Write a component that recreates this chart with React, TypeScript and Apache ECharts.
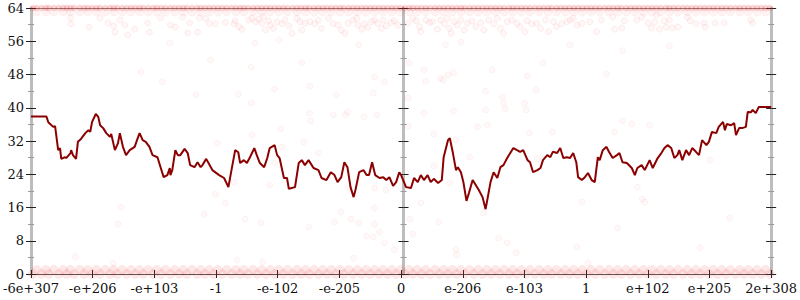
import React, { useEffect, useRef } from "react";
import * as echarts from "echarts";

const xTickLabels = ["-6e+307", "-e+206", "-e+103", "-1", "-e-102", "-e-205", "0", "e-206", "e-103", "1", "e+102", "e+205", "2e+308"];

const linePoints: [number, number][] = [
  [-6.00, 37.9], [-5.75, 37.9], [-5.72, 36.5], [-5.64, 35.4], [-5.61, 35.6], [-5.56, 29.8], [-5.53, 30.3], [-5.51, 27.7], [-5.45, 28.1], [-5.43, 27.9], [-5.36, 29.1], [-5.35, 29.8], [-5.32, 28.6], [-5.27, 27.7], [-5.24, 31.8], [-5.19, 32.5], [-5.12, 33.9], [-5.07, 34.6], [-5.04, 34.2], [-5.01, 36.6], [-4.95, 38.5], [-4.91, 37.8], [-4.88, 35.8], [-4.83, 35.1], [-4.78, 33.9], [-4.72, 33.0], [-4.70, 33.7], [-4.64, 29.8], [-4.59, 31.5], [-4.56, 33.9], [-4.51, 30.6], [-4.46, 28.6], [-4.40, 29.8], [-4.32, 30.6], [-4.27, 32.7], [-4.24, 33.9], [-4.19, 32.2], [-4.14, 31.8], [-4.08, 30.6], [-4.03, 28.6], [-3.95, 28.1], [-3.90, 25.7], [-3.85, 23.3], [-3.79, 23.8], [-3.75, 25.5], [-3.74, 23.8], [-3.71, 25.0], [-3.66, 29.8], [-3.62, 28.6], [-3.58, 28.6], [-3.51, 30.1], [-3.46, 29.1], [-3.42, 26.2], [-3.35, 25.7], [-3.30, 26.9], [-3.25, 25.7],
  [-3.22, 26.2], [-3.16, 27.7], [-3.06, 25.0], [-2.95, 23.8], [-2.87, 23.1], [-2.80, 20.9], [-2.75, 25.0], [-2.69, 29.8], [-2.64, 29.3], [-2.61, 26.7], [-2.55, 27.4], [-2.50, 26.7], [-2.45, 28.1], [-2.38, 30.3], [-2.34, 28.6], [-2.29, 26.7], [-2.22, 25.7], [-2.17, 27.9], [-2.13, 30.3], [-2.05, 31.0], [-2.01, 28.6], [-1.97, 27.9], [-1.90, 23.1], [-1.85, 23.1], [-1.82, 20.5], [-1.72, 20.9], [-1.66, 26.7], [-1.61, 27.4], [-1.56, 26.2], [-1.50, 27.4], [-1.42, 25.5], [-1.34, 25.0], [-1.29, 23.1], [-1.21, 22.6], [-1.14, 24.5], [-1.08, 23.8], [-1.03, 22.1], [-0.97, 23.3], [-0.92, 26.9], [-0.87, 25.7], [-0.82, 20.9], [-0.77, 18.5], [-0.74, 20.2], [-0.68, 24.5], [-0.61, 25.0], [-0.56, 23.8], [-0.52, 23.8], [-0.47, 26.9], [-0.42, 23.8], [-0.35, 23.1], [-0.29, 23.3], [-0.24, 22.6], [-0.19, 23.3], [-0.13, 21.2], [-0.08, 22.1], [-0.03, 24.5],
  [0.00, 23.8], [0.08, 20.9], [0.16, 20.7], [0.21, 23.1], [0.27, 22.1], [0.32, 23.8], [0.37, 22.6], [0.43, 23.8], [0.48, 22.1], [0.53, 22.9], [0.60, 21.9], [0.66, 22.6], [0.69, 28.1], [0.76, 32.2], [0.79, 32.7], [0.84, 29.1], [0.89, 25.0], [0.92, 25.7], [0.97, 24.5], [1.01, 22.1], [1.06, 17.6], [1.10, 19.5], [1.16, 22.6], [1.21, 21.4], [1.26, 20.2], [1.32, 18.5], [1.37, 15.6], [1.40, 18.0], [1.45, 22.1], [1.50, 24.5], [1.56, 23.1], [1.61, 25.7], [1.66, 26.2], [1.72, 27.9], [1.77, 29.1], [1.82, 30.3], [1.88, 29.8], [1.93, 29.4], [1.98, 29.8], [2.05, 27.4], [2.09, 26.9], [2.14, 24.5], [2.21, 25.0], [2.26, 25.5], [2.30, 27.4], [2.37, 28.6], [2.42, 28.1], [2.46, 29.4], [2.53, 29.1], [2.58, 30.3], [2.63, 27.9], [2.69, 28.1], [2.74, 27.9], [2.79, 29.1], [2.84, 26.9], [2.87, 23.3], [2.93, 22.6], [2.98, 23.3], [3.03, 24.3], [3.09, 22.6], [3.14, 22.1], [3.19, 28.1],
  [3.22, 27.4], [3.27, 29.8], [3.33, 30.6], [3.37, 29.4], [3.43, 27.9], [3.50, 28.6], [3.54, 29.1], [3.59, 26.9], [3.66, 26.7], [3.74, 25.5], [3.79, 23.8], [3.83, 25.5], [3.90, 26.2], [3.95, 25.0], [4.03, 27.4], [4.08, 25.5], [4.16, 27.9], [4.22, 29.1], [4.27, 30.3], [4.32, 31.0], [4.38, 30.3], [4.43, 27.9], [4.48, 28.6], [4.51, 29.8], [4.56, 27.4], [4.62, 29.8], [4.67, 28.6], [4.72, 30.3], [4.78, 29.4], [4.83, 28.6], [4.88, 32.2], [4.95, 31.0], [4.99, 31.8], [5.04, 34.2], [5.11, 33.9], [5.15, 35.4], [5.22, 36.6], [5.25, 34.6], [5.28, 36.1], [5.35, 35.8], [5.40, 36.3], [5.43, 33.4], [5.48, 35.1], [5.53, 35.1], [5.59, 35.4], [5.62, 39.0], [5.67, 38.9], [5.70, 39.5], [5.75, 38.7], [5.80, 40.2], [6.00, 40.2],
];

const upperPoints: [number, number][] = [
  [-5.36, 61.6], [-5.35, 60.2], [-5.06, 59.4], [-4.88, 61.6], [-4.75, 60.4], [-4.66, 59.7], [-4.64, 58.2], [-4.56, 61.1], [-4.48, 59.9], [-4.43, 57.5], [-4.32, 58.9], [-4.11, 60.4], [-4.08, 58.2], [-3.90, 61.6], [-3.74, 59.9], [-3.66, 59.4], [-3.54, 61.8], [-3.46, 58.0], [-3.43, 60.4], [-3.30, 58.2], [-3.27, 61.6],
  [-3.17, 61.5], [-3.11, 60.3], [-3.01, 60.2], [-2.85, 60.5], [-2.71, 60.2], [-2.69, 60.9], [-2.63, 59.5], [-2.58, 58.9], [-2.47, 61.1], [-2.42, 61.5], [-2.36, 60.7], [-2.31, 61.3], [-2.26, 60.3], [-2.23, 61.9], [-2.20, 58.7], [-2.15, 60.9], [-2.12, 59.9], [-2.07, 59.1], [-2.01, 60.7], [-1.93, 60.2], [-1.88, 61.1], [-1.82, 59.7], [-1.77, 57.9], [-1.69, 61.5], [-1.64, 60.7], [-1.61, 58.7], [-1.56, 60.3], [-1.48, 60.7], [-1.40, 60.2], [-1.34, 61.1], [-1.29, 59.1], [-1.18, 61.5], [-1.10, 60.2], [-1.02, 59.9], [-0.97, 58.7], [-0.91, 57.9], [-0.86, 60.3], [-0.78, 61.1], [-0.72, 61.5], [-0.70, 59.9], [-0.64, 58.9], [-0.59, 60.2], [-0.54, 59.3], [-0.48, 60.7], [-0.43, 61.1], [-0.38, 60.3], [-0.32, 59.1], [-0.29, 61.1], [-0.24, 59.7], [-0.16, 60.5], [-0.11, 60.9], [-0.05, 59.9],
  [0.11, 60.3], [0.19, 61.5], [0.24, 60.9], [0.30, 59.5], [0.32, 58.3], [0.40, 61.1], [0.46, 60.5], [0.51, 60.7], [0.59, 58.9], [0.64, 61.1], [0.70, 60.2], [0.75, 61.5], [0.78, 59.1], [0.81, 57.9], [0.86, 60.7], [0.91, 59.9], [0.97, 61.1], [1.02, 58.7], [1.07, 60.3], [1.15, 60.9], [1.21, 59.5], [1.29, 60.5], [1.34, 58.7], [1.42, 61.1], [1.50, 60.2], [1.56, 61.5], [1.61, 59.1], [1.66, 57.9], [1.72, 60.7], [1.80, 61.1], [1.88, 60.3], [1.93, 59.5], [2.01, 58.3], [2.04, 60.9], [2.12, 60.2], [2.20, 60.3], [2.26, 59.1], [2.34, 61.1], [2.39, 58.3], [2.47, 60.7], [2.52, 59.5], [2.60, 60.2], [2.69, 60.7], [2.74, 61.1], [2.79, 61.5], [2.85, 59.9], [2.93, 60.3], [3.06, 60.7], [3.17, 58.3],
  [3.25, 61.1], [3.43, 61.8], [3.46, 58.9], [3.58, 59.2], [3.62, 60.9], [3.82, 61.1], [3.90, 61.8], [4.00, 60.4], [4.06, 59.2], [4.11, 60.6], [4.14, 62.3], [4.19, 58.9], [4.27, 60.9], [4.30, 59.4], [4.35, 61.1], [4.40, 59.2], [4.49, 59.4], [4.64, 61.8], [4.69, 60.9], [4.78, 60.2], [4.91, 60.4], [4.93, 59.4], [5.09, 60.4], [5.24, 60.4], [5.67, 61.1], [5.70, 60.4],
];

const midPoints: [number, number][] = [
  [-4.22, 48.6], [-3.87, 46.2], [-3.75, 55.6], [-3.33, 43.1], [-3.09, 51.5], [-2.43, 49.8], [-2.37, 55.6], [-1.98, 56.3], [-1.61, 50.8], [-1.48, 45.2], [-2.64, 43.3], [-2.05, 44.5], [-0.69, 55.1], [-0.43, 47.4], [-0.27, 46.2], [-1.05, 43.1], [-0.45, 43.5],
  [0.13, 50.8], [0.37, 49.1], [0.40, 46.4], [0.64, 47.1], [0.68, 46.7], [0.85, 48.4], [0.76, 47.9], [1.48, 49.1], [2.05, 47.6], [2.30, 50.8], [1.37, 44.0], [1.64, 42.6], [2.19, 44.3], [0.11, 42.3], [2.74, 55.1], [0.72, 55.1], [0.97, 55.8], [3.59, 53.7], [4.35, 54.9], [3.33, 48.1],
  [-2.43, 41.1], [-1.48, 38.7], [-1.47, 36.8], [-1.10, 38.3], [-0.90, 38.3], [-0.87, 39.0], [-0.60, 37.8], [-0.39, 38.3], [-2.42, 33.4], [-1.95, 34.9], [-2.98, 31.5], [-1.58, 31.8], [-1.34, 29.1], [-1.93, 30.6], [-2.05, 26.7], [-2.71, 22.1], [-2.13, 21.4], [-0.85, 20.7], [-0.24, 20.2], [-0.43, 20.7], [-3.01, 19.2],
  [0.37, 38.7], [0.85, 39.2], [1.37, 39.5], [1.66, 41.1], [1.69, 39.7], [2.00, 41.1], [2.03, 39.5], [0.11, 35.6], [0.53, 33.7], [0.89, 32.2], [1.24, 35.4], [1.40, 35.8], [2.08, 33.9], [2.45, 34.2], [1.11, 28.1], [0.53, 26.0], [2.21, 27.7], [0.79, 21.9],
  [3.46, 34.2], [3.59, 36.8], [3.74, 36.1], [4.03, 35.8], [5.01, 27.4], [3.83, 20.9], [3.91, 18.0],
  [-2.85, 17.1], [-3.19, 14.4], [-2.53, 13.2], [-2.27, 12.3], [-1.50, 11.3], [-1.08, 12.5], [-0.98, 14.9], [-0.81, 13.2], [-0.69, 12.3], [-0.43, 12.0], [-0.35, 10.1], [-0.56, 9.1], [-0.45, 8.9], [-0.27, 7.5], [-0.11, 5.8], [-0.43, 15.9], [-0.77, 3.8], [-2.66, 3.4], [-2.24, 2.9],
  [-4.54, 16.1], [-4.59, 12.0], [-5.28, 4.1], [-4.67, 2.6],
  [0.32, 17.1], [0.14, 13.2], [0.19, 9.6], [0.61, 12.5], [0.89, 5.8], [0.90, 4.6], [1.34, 14.7], [1.58, 8.7], [1.72, 7.5], [1.87, 5.1], [2.93, 17.3], [2.85, 6.5], [3.03, 2.6],
  [3.95, 17.3], [3.51, 11.1], [5.33, 13.5], [4.85, 6.3],
];

const bandRowA = [-5.97, -5.83, -5.71, -5.55, -5.42, -5.30, -5.14, -5.01, -4.88, -4.72, -4.60, -4.45, -4.31, -4.18, -4.02, -3.89, -3.74, -3.60, -3.47, -3.31, -3.18, -3.04, -2.90, -2.75, -2.61, -2.48, -2.33, -2.19, -2.05, -1.91, -1.76, -1.62, -1.49, -1.34, -1.20, -1.06, -0.93, -0.78, -0.64, -0.50, -0.36, -0.22, -0.08, 0.06, 0.19, 0.33, 0.47, 0.62, 0.76, 0.90, 1.03, 1.18, 1.32, 1.46, 1.60, 1.75, 1.88, 2.02, 2.17, 2.31, 2.44, 2.59, 2.73, 2.87, 3.01, 3.15, 3.30, 3.44, 3.57, 3.72, 3.86, 4.00, 4.14, 4.29, 4.42, 4.57, 4.71, 4.85, 4.99, 5.13, 5.27, 5.42, 5.56, 5.70, 5.84, 5.98];
const bandRowB = [-5.91, -5.76, -5.63, -5.48, -5.36, -5.21, -5.08, -4.94, -4.80, -4.66, -4.52, -4.38, -4.24, -4.10, -3.96, -3.82, -3.67, -3.53, -3.39, -3.25, -3.11, -2.97, -2.83, -2.68, -2.55, -2.40, -2.26, -2.12, -1.98, -1.84, -1.69, -1.55, -1.41, -1.27, -1.13, -0.99, -0.85, -0.71, -0.57, -0.43, -0.29, -0.15, -0.01, 0.13, 0.26, 0.40, 0.55, 0.69, 0.83, 0.97, 1.11, 1.25, 1.39, 1.53, 1.67, 1.81, 1.95, 2.09, 2.24, 2.38, 2.52, 2.66, 2.80, 2.94, 3.08, 3.22, 3.37, 3.51, 3.65, 3.79, 3.93, 4.07, 4.21, 4.35, 4.49, 4.64, 4.78, 4.92, 5.06, 5.20, 5.34, 5.49, 5.63, 5.77, 5.91];
const bottomLevels = [0, 1];
const topLevels = [64, 63];

const FONT = "DejaVu Serif";

export default function App() {
  const ref = useRef<HTMLDivElement>(null);
  useEffect(() => {
    if (!ref.current) return;
    const chart = echarts.init(ref.current, undefined, { renderer: "svg" });

    const bottomBand: [number, number][] = [];
    const topEdge: [number, number][] = [];
    const topBand: [number, number][] = [];
    bandRowA.forEach((x) => { bottomBand.push([x, bottomLevels[0]]); topEdge.push([x, topLevels[0]]); });
    bandRowB.forEach((x) => { bottomBand.push([x, bottomLevels[1]]); topEdge.push([x, topLevels[0]]); topBand.push([x, topLevels[1]]); });

    const tickStyle = { color: "#222", width: 1 };
    const minorStyle = { color: "#999", width: 1 };
    const yBase = { type: "value", min: 0, max: 64, interval: 8, splitLine: { show: false } };
    const mkY = (position: string, offset: number, inside: boolean, showLine: boolean, showLabel: boolean) => ({
      ...yBase,
      position,
      offset,
      axisLine: { show: showLine, onZero: false, lineStyle: { color: "#bdbdbd", width: 3 } },
      axisTick: { show: true, inside, length: 5, lineStyle: tickStyle },
      minorTick: { show: true, splitNumber: 2, length: 3, lineStyle: minorStyle },
      axisLabel: { show: showLabel, color: "#111", fontFamily: FONT, fontSize: 13, margin: 7 },
    });

    const xBase = { type: "value", min: -6, max: 6, interval: 1, splitLine: { show: false } };

    chart.setOption({
      animation: false,
      grid: { left: 28, right: 27, top: 8, bottom: 26, containLabel: false },
      xAxis: [
        {
          ...xBase,
          position: "bottom",
          axisLine: { show: true, onZero: false, lineStyle: { color: "#555", width: 1 } },
          axisTick: { show: true, inside: false, length: 4, lineStyle: tickStyle },
          axisLabel: {
            show: true, color: "#111", fontFamily: FONT, fontSize: 13, margin: 8,
            formatter: (v: number) => xTickLabels[Math.round(v) + 6] ?? "",
          },
        },
        {
          ...xBase,
          position: "bottom",
          axisLine: { show: false, onZero: false },
          axisTick: { show: true, inside: true, length: 4, lineStyle: tickStyle },
          axisLabel: { show: false },
        },
        {
          ...xBase,
          position: "top",
          axisLine: { show: true, onZero: false, lineStyle: { color: "#888", width: 1 } },
          axisTick: { show: false },
          axisLabel: { show: false },
        },
      ],
      yAxis: [
        mkY("left", 0, false, true, true),
        mkY("left", 0, true, false, false),
        mkY("left", -372.5, false, true, false),
        mkY("left", -372.5, true, false, false),
        mkY("right", 0, false, true, false),
        mkY("right", 0, true, false, false),
      ],
      series: [
        {
          type: "scatter",
          data: bottomBand,
          symbolSize: 9,
          itemStyle: { color: "rgba(240,40,40,0.13)", borderColor: "rgba(230,0,0,0.05)", borderWidth: 1 },
          silent: true,
          clip: false,
        },
        {
          type: "scatter",
          data: topBand,
          symbolSize: 8,
          itemStyle: { color: "rgba(240,40,40,0.08)", borderColor: "rgba(230,0,0,0.04)", borderWidth: 1 },
          silent: true,
          clip: false,
        },
        {
          type: "scatter",
          data: topEdge,
          symbolSize: 6,
          itemStyle: { color: "rgba(230,30,30,0.22)", borderColor: "rgba(230,0,0,0.08)", borderWidth: 1 },
          silent: true,
          clip: false,
        },
        {
          type: "scatter",
          data: upperPoints,
          symbolSize: 6,
          itemStyle: { color: "rgba(255,40,40,0.05)", borderColor: "rgba(230,0,0,0.08)", borderWidth: 1 },
          silent: true,
        },
        {
          type: "scatter",
          data: midPoints,
          symbolSize: 6,
          itemStyle: { color: "rgba(255,40,40,0.04)", borderColor: "rgba(230,0,0,0.06)", borderWidth: 1 },
          silent: true,
        },
        {
          type: "line",
          data: linePoints,
          showSymbol: false,
          symbol: "none",
          lineStyle: { color: "#8b0000", width: 2 },
          z: 5,
        },
      ],
    });
    return () => chart.dispose();
  }, []);
  return <div ref={ref} style={{ position: "absolute", left: 0, top: 0, width: 800, height: 300 }} />;
}
